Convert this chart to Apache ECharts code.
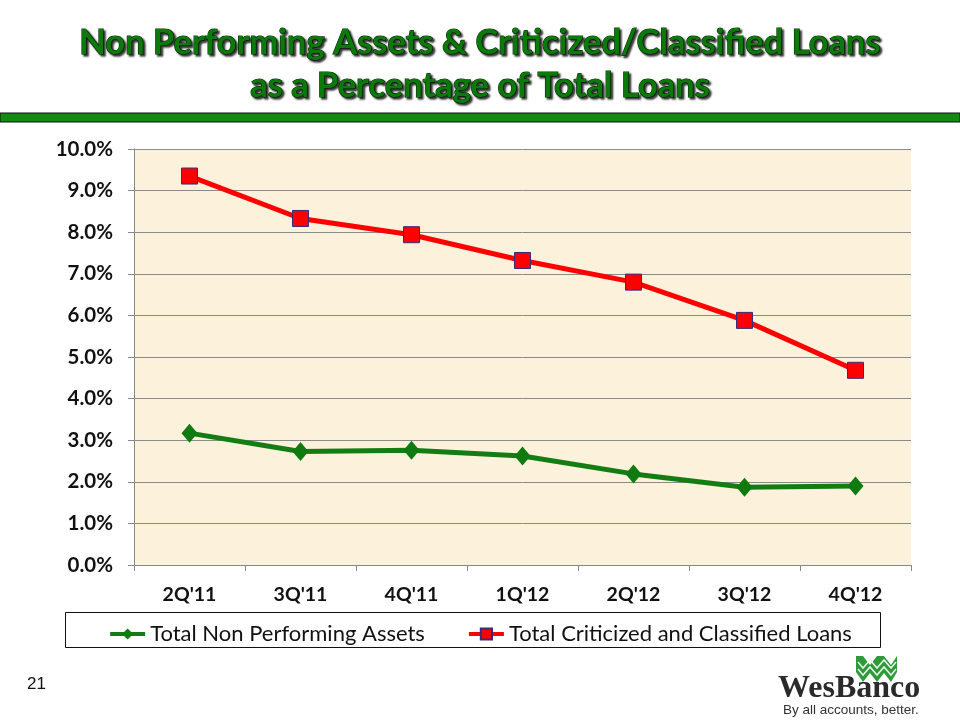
<!DOCTYPE html>
<html>
<head>
<meta charset="utf-8">
<script src="https://cdn.jsdelivr.net/npm/echarts@6/dist/echarts.min.js"></script>
<style>
html,body{margin:0;padding:0;background:#fff;}
#chart{width:960px;height:720px;}
</style>
</head>
<body>
<div id="chart"></div>
<script>
const titleLines = ['Non Performing Assets & Criticized/Classified Loans', 'as a Percentage of Total Loans'];
const categories = ["2Q'11", "3Q'11", "4Q'11", "1Q'12", "2Q'12", "3Q'12", "4Q'12"];
const npaName = 'Total Non Performing Assets';
const npaValues = [3.17, 2.73, 2.76, 2.62, 2.19, 1.87, 1.90];
const ccName = 'Total Criticized and Classified Loans';
const ccValues = [9.35, 8.33, 7.94, 7.32, 6.80, 5.88, 4.68];
const yMin = 0, yMax = 10, yStep = 1;
const pageNumber = '21';

const chart = echarts.init(document.getElementById('chart'), null, {renderer: 'canvas'});
const FONT = 'Lato, "Open Sans", sans-serif';

chart.setOption({
  backgroundColor: '#ffffff',
  animation: false,
  title: [{
    text: titleLines.join('\n'),
    left: 'center',
    top: 16,
    textStyle: {
      fontFamily: FONT,
      fontWeight: 'bold',
      fontSize: 34.5,
      lineHeight: 43,
      color: '#0b7a0b',
      textBorderColor: '#0a300a',
      textBorderWidth: 1.2,
      textShadowColor: 'rgba(0,0,0,0.8)',
      textShadowBlur: 2,
      textShadowOffsetX: 2,
      textShadowOffsetY: 2
    }
  }],
  grid: {
    left: 134, right: 49, top: 149, bottom: 155,
    show: true,
    backgroundColor: '#fcf1da',
    borderWidth: 0
  },
  legend: {
    data: [npaName, ccName],
    left: 'center',
    top: 618,
    itemWidth: 35,
    itemHeight: 14,
    itemGap: 42,
    lineStyle: {width: 4},
    textStyle: {fontFamily: FONT, fontSize: 22, color: '#111'}
  },
  xAxis: {
    type: 'category',
    data: categories,
    boundaryGap: true,
    axisLine: {lineStyle: {color: '#888', width: 1}},
    axisTick: {show: true, length: 6, lineStyle: {color: '#888'}},
    axisLabel: {fontFamily: FONT, fontWeight: 'bold', fontSize: 19.5, color: '#111', margin: 20}
  },
  yAxis: {
    type: 'value',
    min: yMin, max: yMax, interval: yStep,
    axisLine: {show: true, lineStyle: {color: '#888'}},
    axisTick: {show: true, length: 6, lineStyle: {color: '#888'}},
    splitLine: {lineStyle: {color: '#8a8a8a', width: 1}},
    axisLabel: {
      fontFamily: FONT, fontWeight: 'bold', fontSize: 20.5, color: '#111', margin: 21,
      formatter: v => v.toFixed(1) + '%'
    }
  },
  series: [
    {
      name: npaName,
      type: 'line',
      data: npaValues,
      symbol: 'diamond',
      symbolSize: [16, 19],
      lineStyle: {color: '#137d13', width: 5},
      itemStyle: {color: '#0f7a0f', borderColor: '#0f7a0f', borderWidth: 0},
      z: 3
    },
    {
      name: ccName,
      type: 'line',
      data: ccValues,
      symbol: 'rect',
      symbolSize: [16, 16],
      lineStyle: {color: '#ff0000', width: 5},
      itemStyle: {color: '#ff0000', borderColor: '#3a2a7a', borderWidth: 1},
      z: 4
    }
  ],
  graphic: [
    {type: 'rect', shape: {x: 0, y: 113, width: 960, height: 9}, style: {fill: '#138a13', stroke: '#111', lineWidth: 1}},
    {type: 'rect', z: -1, shape: {x: 65.5, y: 612.5, width: 815, height: 35}, style: {fill: '#fff', stroke: '#111', lineWidth: 1}},
    {type: 'text', left: 27, top: 676, style: {text: pageNumber, fontFamily: 'Liberation Sans, Arial, sans-serif', fontSize: 17, fill: '#111'}},
    {type: 'polygon', shape: {points: [[856,656],[863,656],[870,665],[877,656],[884,656],[891,665],[897,656],[897,672],[891,682],[884,673],[877,682],[870,673],[863,682],[856,672]]}, style: {fill: '#2f9a3a'}},
    {type: 'polyline', shape: {points: [[858,662],[863,668],[870,660],[877,668],[884,660],[891,668],[896,662]]}, style: {stroke: '#e8f5e8', lineWidth: 1.5, fill: null}},
    {type: 'polyline', shape: {points: [[858,669],[863,675],[870,667],[877,675],[884,667],[891,675],[896,669]]}, style: {stroke: '#e8f5e8', lineWidth: 1.5, fill: null}},
    {type: 'text', left: 778, top: 673, style: {text: 'WesBanco', fontFamily: '"Liberation Serif", "DejaVu Serif", serif', fontWeight: 'bold', fontSize: 32, fill: '#2a2a2a'}},
    {type: 'text', left: 783, top: 703, style: {text: 'By all accounts, better.', fontFamily: '"Liberation Sans", Arial, sans-serif', fontSize: 13.5, fill: '#333'}}
  ]
});
</script>
</body>
</html>
